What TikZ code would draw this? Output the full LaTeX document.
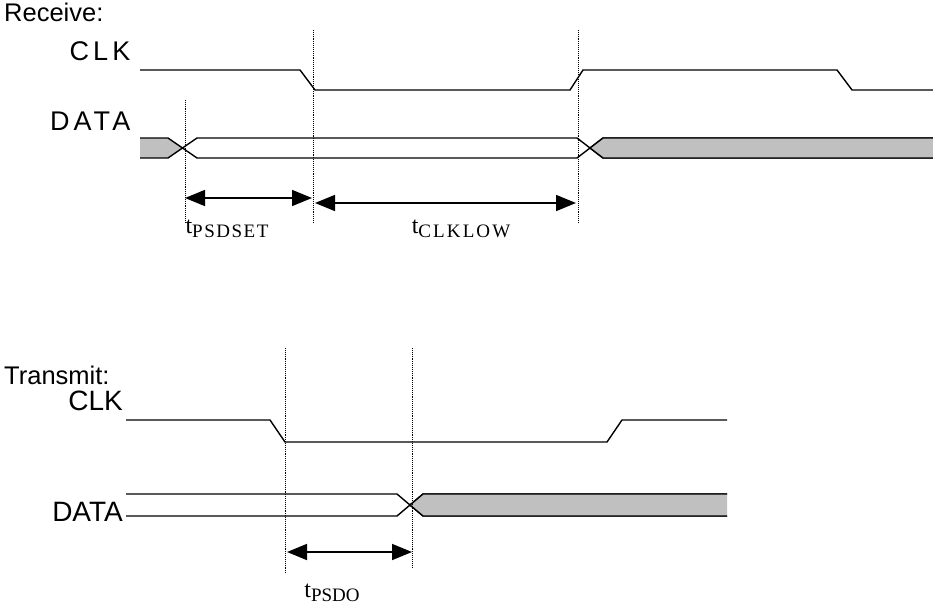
\documentclass[tikz,border=0pt]{standalone}
\usepackage{fontspec}
\setmainfont{Liberation Serif}
\setsansfont{Liberation Sans}
\newfontfamily\widesans[LetterSpace=15]{Liberation Sans}
\usetikzlibrary{arrows.meta}

\definecolor{busgray}{RGB}{192,192,192}
\newcommand{\tsub}[2]{t\raisebox{-3.5pt}{\fontsize{19}{19}\selectfont #1#2}}

\begin{document}
\begin{tikzpicture}[
  x=1pt,y=-1pt,
  wave/.style={line width=1.4pt, line join=miter},
  bus/.style={wave, fill=busgray},
  guide/.style={densely dotted, line width=0.9pt},
  span/.style={{Triangle[length=20pt,width=16pt]}-{Triangle[length=20pt,width=16pt]}, line width=1.6pt},
  head/.style={font=\fontsize{25.5}{28}\sffamily, anchor=west, inner sep=0pt},
  sig/.style={font=\fontsize{28}{30}\sffamily, anchor=east, inner sep=0pt},
  tlbl/.style={font=\fontsize{24}{26}\rmfamily, inner sep=0pt}
]
\useasboundingbox (0,0) rectangle (933,607);

% ---------------- receive ----------------
\node[head] (recv) at (4,12) {Receive:};
\node[sig, font=\fontsize{27}{30}\widesans] (rclk) at (130.5,51) {CLK};
\node[sig, font=\fontsize{27}{30}\widesans] (rdata) at (130.5,121) {DATA};

% clock
\draw[wave] (140,70) -- (300,70) -- (315,90) -- (570,90) -- (583,70)
  -- (837,70) -- (852,90) -- (933,90);

% data bus
\fill[busgray] (140,138) -- (168,138) -- (183,148) -- (168,158) -- (140,158) -- cycle;
\draw[wave] (140,138) -- (168,138) -- (197,158) -- (577,158) -- (603,138) -- (933,138);
\draw[wave] (140,158) -- (168,158) -- (197,138) -- (577,138) -- (603,158) -- (933,158);
\fill[busgray] (590,148) -- (603,138) -- (933,138) -- (933,158) -- (603,158) -- cycle;
\draw[wave] (590,148) -- (603,138) -- (933,138);
\draw[wave] (590,148) -- (603,158) -- (933,158);

% guides
\coordinate (g1t) at (185,100);  \coordinate (g1b) at (185,222);
\coordinate (g2t) at (313,30);   \coordinate (g2b) at (313,222);
\coordinate (g3t) at (578,30);   \coordinate (g3b) at (578,222);
\draw[guide] (g1t) -- (g1b);
\draw[guide] (g2t) -- (g2b);
\draw[guide] (g3t) -- (g3b);

% timing spans
\coordinate (s1a) at (185,198); \coordinate (s1b) at (312,198);
\coordinate (s2a) at (315,203); \coordinate (s2b) at (576,203);
\draw[span] (s1a) -- (s1b);
\draw[span] (s2a) -- (s2b);
\node[tlbl] (tset) at (227,229) {\tsub{\addfontfeature{LetterSpace=8}}{PSDSET}};
\node[tlbl] (tlow) at (461,229) {\tsub{\addfontfeature{LetterSpace=11}}{CLKLOW}};

% ---------------- transmit ----------------
\node[head] (xmit) at (4,375) {Transmit:};
\node[sig] (xclk) at (123,401) {CLK};
\node[sig] (xdata) at (123,512) {DATA};

% clock
\draw[wave] (126,420) -- (270,420) -- (285,442) -- (607,442) -- (622,420) -- (727,420);

% data bus
\draw[wave] (126,494) -- (397,494) -- (423,516) -- (727,516);
\draw[wave] (126,516) -- (397,516) -- (423,494) -- (727,494);
\fill[busgray] (410,505) -- (423,494) -- (727,494) -- (727,516) -- (423,516) -- cycle;
\draw[wave] (410,505) -- (423,494) -- (727,494);
\draw[wave] (410,505) -- (423,516) -- (727,516);

% guides
\coordinate (g4t) at (285,348); \coordinate (g4b) at (285,573);
\coordinate (g5t) at (412,348); \coordinate (g5b) at (412,568);
\draw[guide] (g4t) -- (g4b);
\draw[guide] (g5t) -- (g5b);

% timing span
\coordinate (s3a) at (287,552); \coordinate (s3b) at (412,552);
\draw[span] (s3a) -- (s3b);
\node[tlbl] (tdo) at (332,593) {\tsub{}{PSDO}};

\end{tikzpicture}
\end{document}
